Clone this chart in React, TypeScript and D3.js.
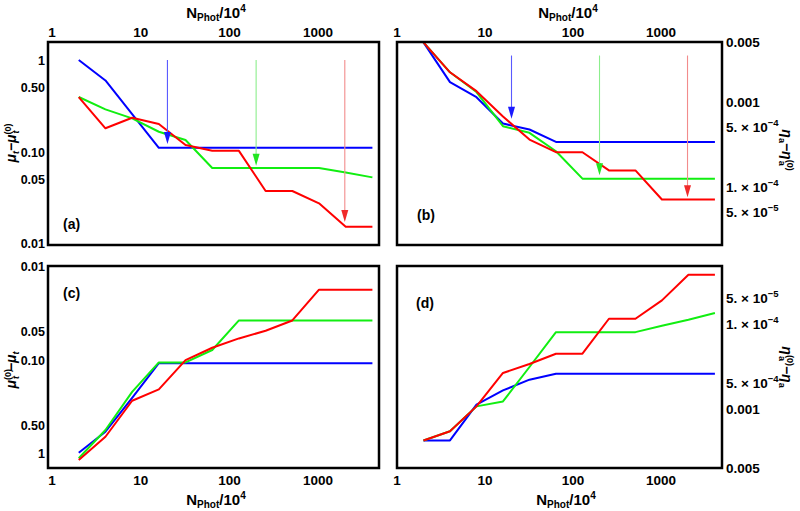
import React from "react";
import * as d3 from "d3";

// ---- data ----
const xN = [2, 4, 8, 16, 32, 64, 128, 256, 512, 1024, 2048, 4096];

const aBlue = [1.0, 0.6, 0.258, 0.111, 0.111, 0.111, 0.111, 0.111, 0.111, 0.111, 0.111, 0.111];
const aGreen = [0.396, 0.291, 0.232, 0.166, 0.135, 0.067, 0.067, 0.067, 0.067, 0.067, 0.06, 0.053];
const aRed = [0.396, 0.181, 0.236, 0.202, 0.119, 0.103, 0.103, 0.0377, 0.0377, 0.0277, 0.0154, 0.0154];

const bBlue = [0.005, 0.0017, 0.00113, 0.000553, 0.00047, 0.000336, 0.000336, 0.000336, 0.000336, 0.000336, 0.000336, 0.000336];
const bGreen = [0.005, 0.00222, 0.0013, 0.000514, 0.00043, 0.000261, 0.000124, 0.000124, 0.000124, 0.000124, 0.000124, 0.000124];
const bRed = [0.005, 0.00222, 0.00133, 0.00067, 0.000358, 0.000254, 0.000254, 0.000155, 0.000155, 7.05e-5, 7.05e-5, 7.05e-5];

const cBlue = [0.985, 0.586, 0.255, 0.108, 0.108, 0.108, 0.108, 0.108, 0.108, 0.108, 0.108, 0.108];
const cGreen = [1.13, 0.563, 0.219, 0.106, 0.106, 0.078, 0.0376, 0.0376, 0.0376, 0.0376, 0.0376, 0.0376];
const cRed = [1.18, 0.664, 0.273, 0.206, 0.1, 0.0738, 0.0586, 0.0485, 0.0376, 0.0176, 0.0176, 0.0176];

const dBlue = [0.00237, 0.00237, 0.0009, 0.000611, 0.000457, 0.000389, 0.000389, 0.000389, 0.000389, 0.000389, 0.000389, 0.000389];
const dGreen = [0.00237, 0.00185, 0.000942, 0.000823, 0.000324, 0.000126, 0.000126, 0.000126, 0.000126, 0.000106, 9.0e-5, 7.5e-5];
const dRed = [0.00237, 0.00185, 0.000942, 0.000381, 0.000299, 0.000226, 0.000226, 8.77e-5, 8.77e-5, 5.33e-5, 2.66e-5, 2.66e-5];

const arrowX = [20, 200, 2000];
const aArrowStart = 1.0;
const aArrowTips = [0.122, 0.071, 0.0173];
const bArrowStart = 0.0035;
const bArrowTips = [0.000628, 0.000136, 7.5e-5];

const xTicks = [1, 10, 100, 1000];
const xTickLabels = ["1", "10", "100", "1000"];
const muTicks = [1, 0.5, 0.1, 0.05, 0.01];
const muTickLabels = ["1", "0.50", "0.10", "0.05", "0.01"];
const etaTicks = [0.005, 0.001, 5e-4, 1e-4, 5e-5];
const etaTickLabels: [string, string | null][] = [
  ["0.005", null],
  ["0.001", null],
  ["5. \u00d7 10", "\u22124"],
  ["1. \u00d7 10", "\u22124"],
  ["5. \u00d7 10", "\u22125"],
];

const seriesColors = ["#0000ff", "#11ee11", "#ff0000"];
const arrowLineColors = ["#5a5aff", "#8cee8c", "#f28c8c"];
const arrowHeadColors = ["#1a1aff", "#22e622", "#f02a2a"];

const FONT = "'Liberation Sans', Arial, Helvetica, sans-serif";

type Panel = {
  id: string;
  x0: number; x1: number; y0: number; y1: number;
  xDomain: [number, number];
  yDomain: [number, number];
  yInverted: boolean;
  series: number[][];
  ticks: "mu" | "eta";
  side: "left" | "right";
  xAxis: "top" | "bottom";
  label: [number, number];
  arrows?: { start: number; tips: number[] };
};

const panels: Panel[] = [
  { id: "(a)", x0: 48, x1: 379, y0: 42, y1: 245, xDomain: [0.9, 4860], yDomain: [0.00975, 1.57], yInverted: false,
    series: [aBlue, aGreen, aRed], ticks: "mu", side: "left", xAxis: "top", label: [63, 229],
    arrows: { start: aArrowStart, tips: aArrowTips } },
  { id: "(b)", x0: 397, x1: 722, y0: 42, y1: 245, xDomain: [1, 4930], yDomain: [2.05e-5, 0.00505], yInverted: false,
    series: [bBlue, bGreen, bRed], ticks: "eta", side: "right", xAxis: "top", label: [417, 220],
    arrows: { start: bArrowStart, tips: bArrowTips } },
  { id: "(c)", x0: 48, x1: 379, y0: 266, y1: 468, xDomain: [0.9, 4860], yDomain: [0.0098, 1.437], yInverted: true,
    series: [cBlue, cGreen, cRed], ticks: "mu", side: "left", xAxis: "bottom", label: [63, 298] },
  { id: "(d)", x0: 397, x1: 722, y0: 266, y1: 468, xDomain: [1, 4930], yDomain: [2.1e-5, 0.005], yInverted: true,
    series: [dBlue, dGreen, dRed], ticks: "eta", side: "right", xAxis: "bottom", label: [416, 308] },
];

function NTitle({ x, y }: { x: number; y: number }) {
  return (
    <text x={x} y={y} textAnchor="middle" fontFamily={FONT} fontWeight="bold" fontSize={15}>
      N<tspan fontSize={10} dy={3}>Phot</tspan>
      <tspan dy={-3}>/10</tspan>
      <tspan fontSize={10} dy={-6}>4</tspan>
    </text>
  );
}

function MuTitle({ x, y, inverse }: { x: number; y: number; inverse: boolean }) {
  return (
    <text transform={`translate(${x},${y}) rotate(-90)`} textAnchor="middle" fontFamily={FONT} fontWeight="bold" fontSize={14}>
      {inverse ? (
        <>
          <tspan fontStyle="italic">{"\u03bc"}</tspan>
          <tspan fontSize={9} dy={-5}>(0)</tspan>
          <tspan fontSize={9} fontStyle="italic" dx={-10} dy={8}>t</tspan>
          <tspan dx={5} dy={-3}>{"\u2212"}</tspan>
          <tspan fontStyle="italic">{"\u03bc"}</tspan>
          <tspan fontSize={9} fontStyle="italic" dy={3}>t</tspan>
        </>
      ) : (
        <>
          <tspan fontStyle="italic">{"\u03bc"}</tspan>
          <tspan fontSize={9} fontStyle="italic" dy={3}>t</tspan>
          <tspan dy={-3}>{"\u2212"}</tspan>
          <tspan fontStyle="italic">{"\u03bc"}</tspan>
          <tspan fontSize={9} dy={-5}>(0)</tspan>
          <tspan fontSize={9} fontStyle="italic" dx={-10} dy={8}>t</tspan>
          <tspan dx={5} dy={-3}> </tspan>
        </>
      )}
    </text>
  );
}

function EtaTitle({ x, y, inverse }: { x: number; y: number; inverse: boolean }) {
  return (
    <text transform={`translate(${x},${y}) rotate(90)`} textAnchor="middle" fontFamily={FONT} fontWeight="bold" fontSize={14}>
      {inverse ? (
        <>
          <tspan fontStyle="italic">{"\u03b7"}</tspan>
          <tspan fontSize={9} dy={-5}>(0)</tspan>
          <tspan fontSize={9} dx={-10} dy={8}>a</tspan>
          <tspan dx={5} dy={-3}>{"\u2212"}</tspan>
          <tspan fontStyle="italic">{"\u03b7"}</tspan>
          <tspan fontSize={9} dy={3}>a</tspan>
        </>
      ) : (
        <>
          <tspan fontStyle="italic">{"\u03b7"}</tspan>
          <tspan fontSize={9} dy={3}>a</tspan>
          <tspan dy={-3}>{"\u2212"}</tspan>
          <tspan fontStyle="italic">{"\u03b7"}</tspan>
          <tspan fontSize={9} dy={-5}>(0)</tspan>
          <tspan fontSize={9} dx={-10} dy={8}>a</tspan>
          <tspan dx={5} dy={-3}> </tspan>
        </>
      )}
    </text>
  );
}

function PanelView({ p }: { p: Panel }) {
  const x = d3.scaleLog().domain(p.xDomain).range([p.x0, p.x1]);
  const y = d3.scaleLog().domain(p.yDomain).range(p.yInverted ? [p.y0, p.y1] : [p.y1, p.y0]);
  const line = d3.line<[number, number]>().x((d) => x(d[0])).y((d) => y(d[1]));
  const tickVals = p.ticks === "mu" ? muTicks : etaTicks;
  return (
    <g>
      {p.series.map((s, i) => (
        <path key={i} d={line(xN.map((v, j) => [v, s[j]] as [number, number])) || ""} fill="none"
          stroke={seriesColors[i]} strokeWidth={2} strokeLinejoin="round" />
      ))}
      {p.arrows && arrowX.map((ax, i) => {
        const px = x(ax);
        const ys = y(p.arrows!.start);
        const yt = y(p.arrows!.tips[i]);
        return (
          <g key={i}>
            <line x1={px} x2={px} y1={ys} y2={yt - 6} stroke={arrowLineColors[i]} strokeWidth={1.1} />
            <path d={`M${px},${yt} L${px - 3.5},${yt - 12} L${px + 3.5},${yt - 12} Z`} fill={arrowHeadColors[i]} />
          </g>
        );
      })}
      <rect x={p.x0} y={p.y0} width={p.x1 - p.x0} height={p.y1 - p.y0} fill="none" stroke="#000" strokeWidth={2.5} />
      {xTicks.map((t, i) => (
        <text key={i} x={x(t)} y={p.xAxis === "top" ? 37 : 485} textAnchor="middle" fontFamily={FONT}
          fontWeight="bold" fontSize={13.5}>{xTickLabels[i]}</text>
      ))}
      {tickVals.map((t, i) => {
        if (p.ticks === "mu") {
          return (
            <text key={i} x={p.x0 - 3} y={y(t) + 4.5} textAnchor="end" fontFamily={FONT} fontWeight="bold" fontSize={12.5}>
              {muTickLabels[i]}
            </text>
          );
        }
        const [base, exp] = etaTickLabels[i];
        return (
          <text key={i} x={p.x1 + 4} y={y(t) + 5} textAnchor="start" fontFamily={FONT} fontWeight="bold" fontSize={13.5}>
            {base}
            {exp && <tspan fontSize={9.5} dy={-6}>{exp}</tspan>}
          </text>
        );
      })}
      <text x={p.label[0]} y={p.label[1]} fontFamily={FONT} fontWeight="bold" fontSize={14}>{p.id}</text>
    </g>
  );
}

export default function App() {
  return (
    <div style={{ position: "absolute", left: 0, top: 0 }}>
      <svg width={800} height={511} style={{ display: "block", background: "#fff" }}>
        {panels.map((p) => <PanelView key={p.id} p={p} />)}
        <NTitle x={216} y={18} />
        <NTitle x={568} y={18} />
        <NTitle x={216} y={505} />
        <NTitle x={566} y={505} />
        <MuTitle x={16} y={143} inverse={false} />
        <MuTitle x={16} y={370} inverse={true} />
        <EtaTitle x={782} y={150} inverse={false} />
        <EtaTitle x={782} y={367} inverse={true} />
      </svg>
    </div>
  );
}
